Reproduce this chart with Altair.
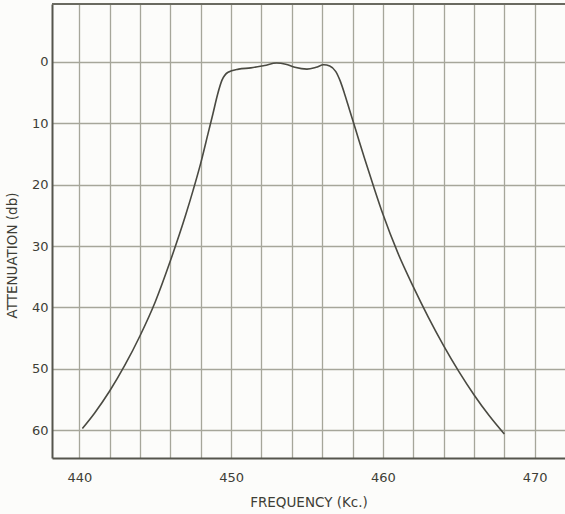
import altair as alt
import pandas as pd

# Filter response: frequency (kc) vs attenuation (db)
freq = [440.2, 441.0, 442.0, 443.0, 444.0, 445.0, 446.0, 447.0, 447.5, 448.0,
        448.5, 448.8, 449.1, 449.4, 449.8, 450.5, 451.3, 452.2, 453.0, 453.6,
        454.2, 455.0, 455.6, 456.1, 456.5, 456.9, 457.2, 457.5, 457.8, 458.2,
        458.8, 459.4, 460.0, 461.0, 462.0, 463.0, 464.0, 465.0, 466.0, 467.0,
        468.0]
atten = [59.7, 57.2, 53.6, 49.4, 44.6, 39.1, 32.4, 25.0, 20.9, 16.5,
         11.5, 8.5, 5.4, 3.0, 1.7, 1.2, 1.0, 0.6, 0.2, 0.4,
         0.9, 1.2, 0.9, 0.5, 0.7, 1.6, 3.2, 5.4, 7.8, 11.0,
         15.8, 20.4, 24.8, 31.2, 36.6, 41.6, 46.2, 50.4, 54.2, 57.6,
         60.6]

x_grid = list(range(440, 472, 2))
y_ticks = [0, 10, 20, 30, 40, 50, 60]

df = pd.DataFrame({"freq": freq, "atten": atten})

GRID = "#a6a69a"
AXIS = "#55554c"
INK = "#3e3e36"
FONT = "DejaVu Sans"

x_scale = alt.Scale(domain=[438.2, 472.0], nice=False, zero=False)
y_scale = alt.Scale(domain=[-9.4, 64.5], nice=False, zero=False, reverse=True)

curve = alt.Chart(df).mark_line(
    color="#4a4a42", strokeWidth=1.6, interpolate="monotone"
).encode(
    x=alt.X("freq:Q", scale=x_scale,
            axis=alt.Axis(values=x_grid, title="FREQUENCY  (Kc.)",
                          labelExpr="datum.value % 10 == 0 ? datum.label : ''",
                          grid=True, gridColor=GRID, gridWidth=1.3,
                          ticks=False, labelPadding=13, labelFontSize=13,
                          labelFont=FONT, labelColor=INK, labelFlush=False,
                          titleFont=FONT, titleFontSize=13.5, titleFontWeight="normal",
                          titleColor=INK, titlePadding=11,
                          domainColor=AXIS, domainWidth=2)),
    y=alt.Y("atten:Q", scale=y_scale,
            axis=alt.Axis(values=y_ticks, title="ATTENUATION  (db)",
                          grid=True, gridColor=GRID, gridWidth=1.3,
                          ticks=False, labelPadding=4, labelFontSize=13,
                          labelFont=FONT, labelColor=INK,
                          titleFont=FONT, titleFontSize=13.5, titleFontWeight="normal",
                          titleColor=INK, titleY=251, titleX=-33,
                          domainColor=AXIS, domainWidth=2)),
)

# top border of the graph paper
top = alt.Chart(df).mark_rule(color="#6a6a60", strokeWidth=2).encode(
    y=alt.value(0)
)

chart = alt.layer(top, curve).properties(
    width=513, height=454,
    padding={"left": 52, "top": 4, "right": 0, "bottom": 56},
    autosize=alt.AutoSizeParams(type="none"),
    background="#fcfcfa",
).configure_view(stroke=None)

chart.save("out.html", embed_options={"renderer": "svg", "actions": False})
